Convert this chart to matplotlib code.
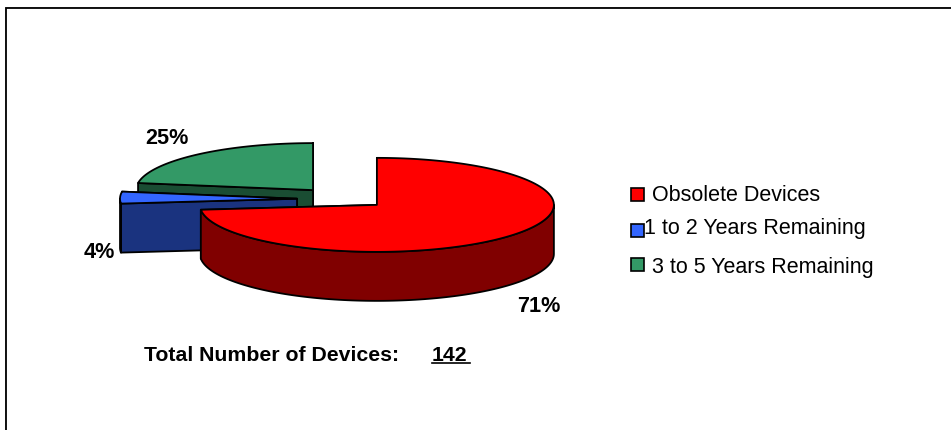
import numpy as np
import matplotlib
matplotlib.use('Agg')
import matplotlib.pyplot as plt
from matplotlib.patches import Polygon, Rectangle

# data
categories = ['Obsolete Devices', '1 to 2 Years Remaining', '3 to 5 Years Remaining']
percents = [71, 4, 25]
pct_labels = ['71%', '4%', '25%']
total_label = 'Total Number of Devices:'
total_value = '142'

top_colors = ['#FF0000', '#3366FF', '#339966']
side_colors = ['#800000', '#1A337F', '#1A4D33']

# pie geometry, in pixels of the picture
cx, cy = 340, 200
rx, ry = 177, 47
depth = 49
explode = 43
skew = 8.7  # excel's perspective pushes the angles round a bit

plt.rcParams['font.family'] = ['Liberation Sans', 'DejaVu Sans']

fig = plt.figure(figsize=(9.51, 4.31), dpi=100)
ax = fig.add_axes([0, 0, 1, 1])
ax.set_xlim(0, 951)
ax.set_ylim(431, 0)
ax.axis('off')


def view_angle(pct):
    t = np.radians(pct * 3.6)
    return t - np.radians(skew) * np.sin(t)


def rim(ox, oy, t):
    return np.column_stack([ox + rx * np.sin(t), oy - ry * np.cos(t)])


def draw_slice(start, end, top, side, z):
    t0, t1 = view_angle(start), view_angle(end)
    mid = view_angle((start + end) / 2.0)
    ox = cx + explode * np.sin(mid)
    oy = cy - explode * np.cos(mid) * ry / rx
    style = dict(edgecolor='black', linewidth=1.3, joinstyle='round', zorder=z)
    down = np.array([0, depth])
    apex = np.array([[ox, oy]])

    # flat cut faces first, the top and the rim hide what should not show
    for t in (t1, t0):
        p = rim(ox, oy, np.array([t]))
        face = np.vstack([apex, p, p + down, apex + down])
        ax.add_patch(Polygon(face, facecolor=side, **style))

    # outer wall, only the part turned to the viewer
    a, b = max(t0, np.pi / 2), min(t1, 3 * np.pi / 2)
    if b > a:
        arc = rim(ox, oy, np.linspace(a, b, 120))
        wall = np.vstack([arc, (arc + down)[::-1]])
        ax.add_patch(Polygon(wall, facecolor=side, **style))

    arc = rim(ox, oy, np.linspace(t0, t1, 240))
    ax.add_patch(Polygon(np.vstack([apex, arc]), facecolor=top, **style))


starts = np.cumsum([0] + percents[:-1])
# back slices first, red goes on top
for i in [2, 1, 0]:
    draw_slice(starts[i], starts[i] + percents[i], top_colors[i], side_colors[i], 3 + (2 - i))

# chart frame: top and left only, the rest is cut off
ax.plot([5.5, 5.5, 951], [431, 9, 9], color='black', lw=1.3, solid_joinstyle='miter', zorder=1)
ax.plot([4.5, 4.5, 951], [431, 8, 8], color='#BBBBBB', lw=0.7, zorder=0)

# percent labels
label_pos = [(517, 312), (84, 258), (145, 144)]
for txt, (x, y) in zip(pct_labels, label_pos):
    ax.text(x, y, txt, fontsize=15.6, fontweight='bold', va='baseline', ha='left', zorder=10)

# legend
swatch_y = [189, 225, 259]
legend_base = [201.5, 234, 273]
for name, col, sy, by in zip(categories, top_colors, swatch_y, legend_base):
    ax.add_patch(Rectangle((631, sy), 13, 13, facecolor=col, edgecolor='black', lw=1.2, zorder=8))
    ax.text(652 if name[0] != '1' else 644, by, name, fontsize=15.5, va='baseline', ha='left', zorder=9)

ax.text(144, 361, total_label, fontsize=15.3, fontweight='bold', va='baseline', ha='left')
ax.text(432, 361, total_value, fontsize=15.3, fontweight='bold', va='baseline', ha='left')
ax.plot([432, 470], [364, 364], color='black', lw=1.2)

fig.savefig('out.png', dpi=100)
